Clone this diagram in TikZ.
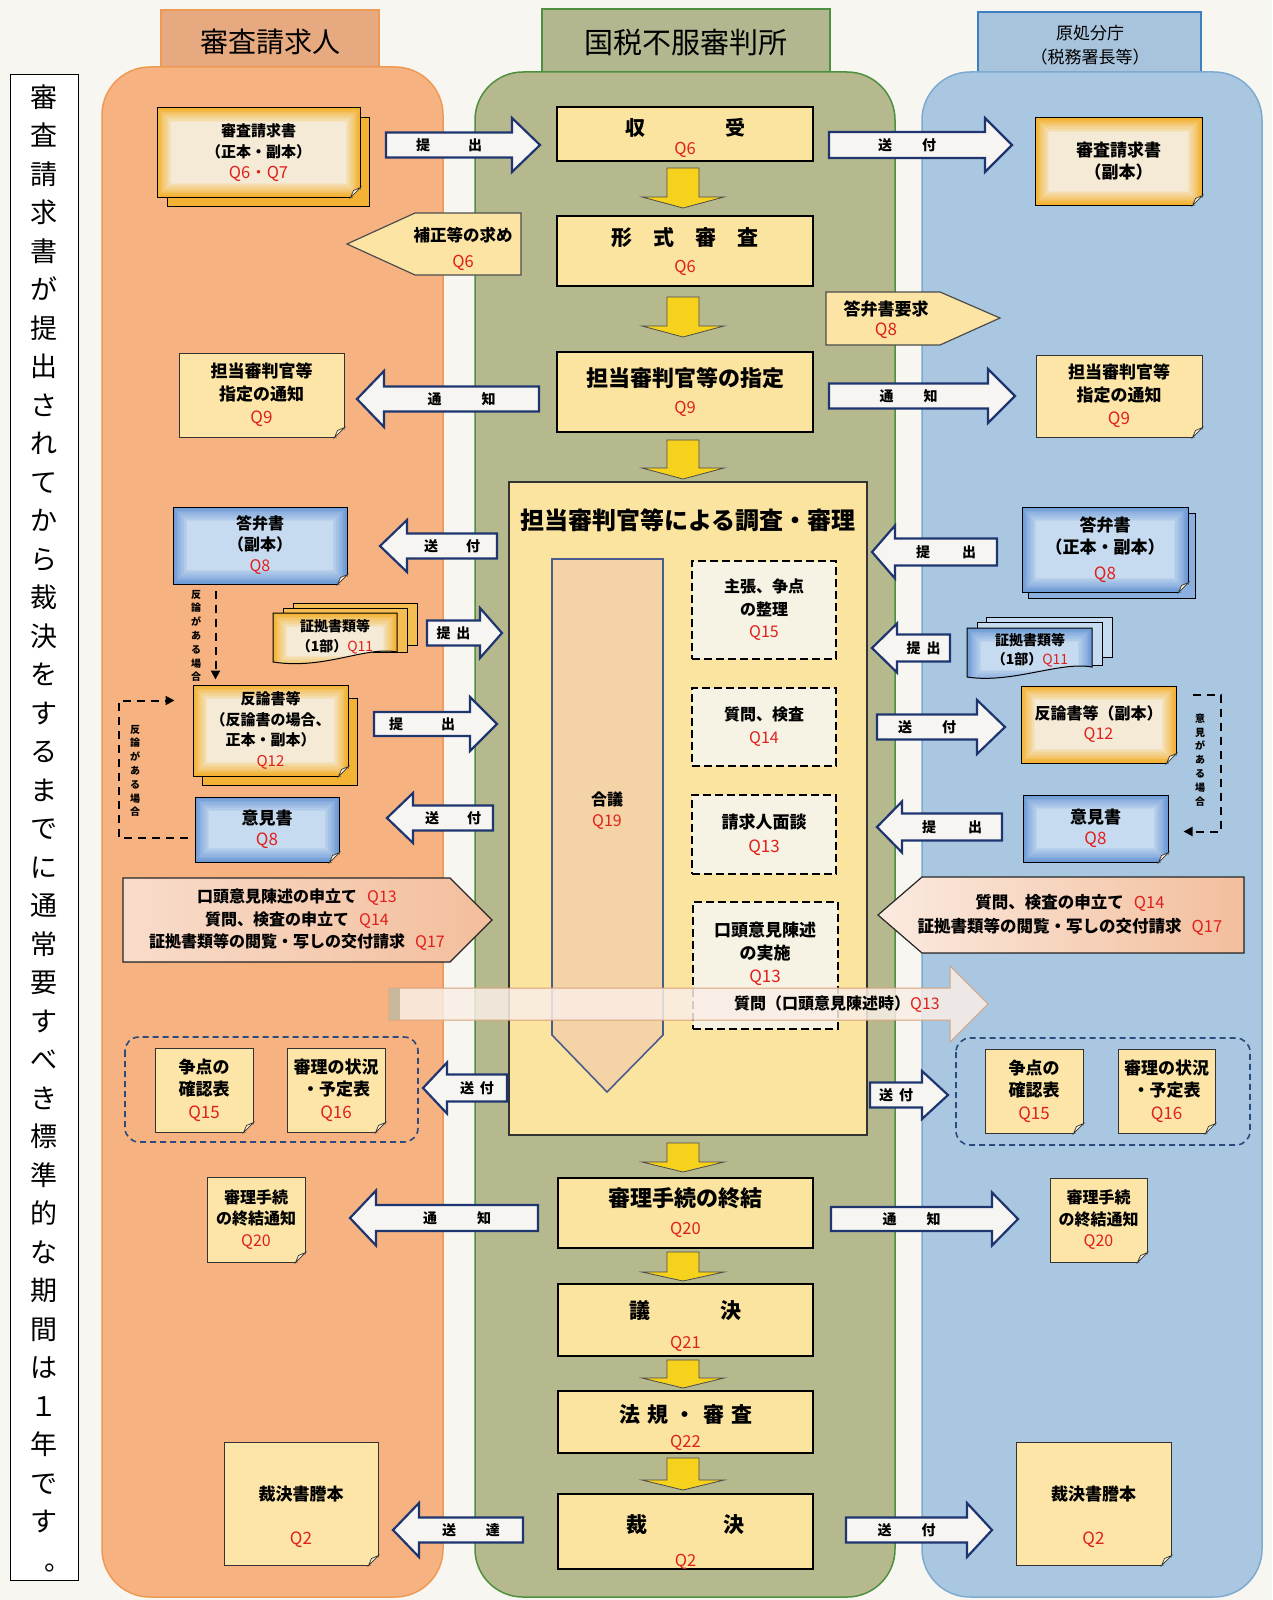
\documentclass[tikz,border=0pt]{standalone}
\usepackage{fontspec}
\setmainfont{Noto Sans CJK JP}
\usetikzlibrary{arrows.meta}
\definecolor{bg}{HTML}{F7F6F1}
\definecolor{laneO}{HTML}{F6B381}
\definecolor{laneOd}{HTML}{EE9A55}
\definecolor{tabO}{HTML}{E7A97F}
\definecolor{laneG}{HTML}{B5B98D}
\definecolor{laneGd}{HTML}{4E9040}
\definecolor{tabG}{HTML}{B3B790}
\definecolor{laneB}{HTML}{A9C7E0}
\definecolor{laneBd}{HTML}{7FAAD0}
\definecolor{tabB}{HTML}{A8C3DC}
\definecolor{tabBd}{HTML}{3D7FBF}
\definecolor{boxY}{HTML}{FBE3A0}
\definecolor{paperY}{HTML}{FCE5A6}
\definecolor{gO}{HTML}{F3B233}
\definecolor{gOin}{HTML}{F5EAD6}
\definecolor{gB}{HTML}{6E9BD6}
\definecolor{gBin}{HTML}{C6DAF0}
\definecolor{arrF}{HTML}{F6F5F2}
\definecolor{navy}{HTML}{1E3570}
\definecolor{qred}{HTML}{E0201C}
\definecolor{yel}{HTML}{F7D21C}
\definecolor{dboxF}{HTML}{F6F2E4}
\definecolor{gouF}{HTML}{F4D3A6}
\definecolor{pinkL}{HTML}{F8DCCB}
\definecolor{pinkR}{HTML}{F3BE9C}
\definecolor{grpB}{HTML}{2B4A7E}
\definecolor{pentY}{HTML}{FBE4A4}
\definecolor{qarrF}{HTML}{F9EEE6}
\definecolor{qarrD}{HTML}{D8A27A}
\definecolor{qbar}{HTML}{C9B79B}

\newcommand{\Q}[1]{{\mdseries\color{qred}#1}}
\newcommand{\QQ}[1]{{\fontsize{16.5}{16.5}\selectfont\mdseries\color{qred}#1}}
% right-pointing block arrow: name, x tail, x tip, y centre, shaft half, head half, head length, text
\newcommand{\rarr}[8]{%
  \draw[barrow] (#2,#4-#5) -- (#3-#7,#4-#5) -- (#3-#7,#4-#6) -- (#3,#4) -- (#3-#7,#4+#6) -- (#3-#7,#4+#5) -- (#2,#4+#5) -- cycle;
  \node[btext] (#1) at ({(#2+#3-#7)/2},#4) {#8};}
% left-pointing block arrow: name, x tip, x tail, y centre, shaft half, head half, head length, text
\newcommand{\larr}[8]{%
  \draw[barrow] (#3,#4-#5) -- (#2+#7,#4-#5) -- (#2+#7,#4-#6) -- (#2,#4) -- (#2+#7,#4+#6) -- (#2+#7,#4+#5) -- (#3,#4+#5) -- cycle;
  \node[btext] (#1) at ({(#2+#7+#3)/2},#4) {#8};}
% yellow down arrow: name, x centre, y top, y head base, y tip
\newcommand{\darr}[5]{%
  \draw[yarrow] (#2-16,#3) -- (#2+16,#3) -- (#2+16,#4) -- (#2+41,#4) -- (#2,#5) -- (#2-41,#4) -- (#2-16,#4) -- cycle;
  \coordinate (#1) at (#2,#3);}
% box node from corners: name, x1, y1, x2, y2, style, text
\newcommand{\pbox}[7]{\node[#6, minimum width={#4pt-#2pt}, minimum height={#5pt-#3pt}] (#1) at ({(#2+#4)/2},{(#3+#5)/2}) {#7};}
% folded corner
\newcommand{\fold}[2]{%
  \fill[#2] ([xshift=-10pt]#1.south east) -- ([xshift=1pt,yshift=-1pt]#1.south east) -- ([yshift=10pt]#1.south east) -- cycle;
  \filldraw[fill=white!55!paperY, draw=black!80, line width=0.7pt] ([xshift=-10pt]#1.south east) -- ([xshift=-7pt,yshift=7pt]#1.south east) -- ([yshift=10pt]#1.south east) -- cycle;}

\begin{document}
\begin{tikzpicture}[x={(1pt,0)}, y={(0,-1pt)},
  every node/.style={inner sep=0pt},
  barrow/.style={fill=arrF, draw=navy, line width=2.2pt, line join=miter},
  btext/.style={font=\bfseries\fontsize{14}{14}\selectfont},
  yarrow/.style={fill=yel, draw=black!70, line width=0.8pt},
  cbox/.style={fill=boxY, draw=black, line width=1.6pt, align=center},
  paper/.style={fill=paperY, draw=black!80, line width=1pt, align=center},
  glowO/.style={fill=gO, path picture={
    \foreach \k in {1,...,8}{\pgfmathtruncatemacro{\pc}{\k*100/8}
      \fill[gOin!\pc!gO] ([shift={(\k*1.8,-\k*1.8)}]path picture bounding box.south west) rectangle ([shift={(-\k*1.8,\k*1.8)}]path picture bounding box.north east);}}},
  glowB/.style={fill=gB, path picture={
    \foreach \k in {1,...,8}{\pgfmathtruncatemacro{\pc}{\k*100/8}
      \fill[gBin!\pc!gB] ([shift={(\k*1.8,-\k*1.8)}]path picture bounding box.south west) rectangle ([shift={(-\k*1.8,\k*1.8)}]path picture bounding box.north east);}}},
  gpaperO/.style={glowO, draw=black, line width=1pt, align=center},
  gpaperB/.style={glowB, draw=black, line width=1pt, align=center},
  dbox/.style={fill=dboxF, draw=black, line width=2pt, dash pattern=on 8pt off 4pt, align=center},
  grp/.style={draw=grpB, line width=1.6pt, dash pattern=on 6pt off 4pt, rounded corners=14pt},
  dashc/.style={draw=black, line width=2pt, dash pattern=on 8pt off 6pt, -{Triangle[length=9pt,width=9pt]}},
  vsmall/.style={font=\bfseries\fontsize{10}{13.8}\selectfont, align=center},
  back/.style={draw=black, line width=1pt}]

\fill[bg] (0,0) rectangle (1272,1600);
\useasboundingbox (0,0) rectangle (1272,1600);

% ---------- lanes ----------
\filldraw[fill=tabO, draw=laneOd, line width=1.5pt] (161,10) rectangle (379,72);
\filldraw[fill=tabG, draw=laneGd, line width=1.5pt] (542,9) rectangle (830,76);
\filldraw[fill=tabB, draw=tabBd, line width=1.5pt] (978,12) rectangle (1201,76);
\filldraw[fill=laneO, draw=laneOd, line width=1.5pt, rounded corners=48pt] (102,67) rectangle (443,1597);
\filldraw[fill=laneG, draw=laneGd, line width=1.5pt, rounded corners=48pt] (475,72) rectangle (895,1597);
\filldraw[fill=laneB, draw=laneBd, line width=1.5pt, rounded corners=48pt] (922,72) rectangle (1262,1597);
\node[font=\fontsize{28}{28}\selectfont] (hO) at (270,42) {審査請求人};
\node[font=\fontsize{29}{29}\selectfont] (hG) at (686,42) {国税不服審判所};
\node[font=\fontsize{17}{24}\selectfont, align=center] (hB) at (1090,45) {原処分庁\\（税務署長等）};

% ---------- vertical note ----------
\node[draw=black, line width=1pt, fill=white, minimum width=68pt, minimum height=1505pt] (vbox) at (44,827.5) {};
\node[font=\fontsize{27}{38.5}\selectfont, align=center] (vtext) at (44,828) {審\\査\\請\\求\\書\\が\\提\\出\\さ\\れ\\て\\か\\ら\\裁\\決\\を\\す\\る\\ま\\で\\に\\通\\常\\要\\す\\べ\\き\\標\\準\\的\\な\\期\\間\\は\\１\\年\\で\\す\\\kern28pt。};

% ---------- centre column ----------
\pbox{cRecv}{557}{107}{813}{161}{cbox, font=\bfseries\fontsize{20}{19}\selectfont}{\rule{0pt}{25pt}収\hspace{80pt}受\\\QQ{Q6}}
\pbox{cForm}{557}{216}{813}{286}{cbox, font=\bfseries\fontsize{21}{27}\selectfont}{形　式　審　査\\\QQ{Q6}}
\pbox{cAssign}{557}{352}{813}{432}{cbox, font=\bfseries\fontsize{22}{27}\selectfont}{担当審判官等の指定\\\QQ{Q9}}
\darr{d1}{683}{168}{197}{208}
\darr{d2}{683}{297}{326}{337}
\darr{d3}{683}{440}{468}{479}

\pbox{cInv}{509}{482}{867}{1135}{fill=boxY, draw=black!80, line width=1.2pt}{}
\node[font=\bfseries\fontsize{24}{24}\selectfont] (cInvT) at (688,520) {担当審判官等による調査・審理};
\filldraw[fill=gouF, draw=navy!80, line width=1.6pt] (552,559) -- (663,559) -- (663,1035) -- (607,1092) -- (552,1035) -- cycle;
\node[font=\bfseries\fontsize{16}{21}\selectfont, align=center] (gougi) at (607,811) {合議\\\Q{Q19}};
\pbox{dbA}{692}{561}{836}{659}{dbox, font=\bfseries\fontsize{16}{22.5}\selectfont}{主張、争点\\の整理\\\Q{Q15}}
\pbox{dbB}{692}{688}{836}{766}{dbox, font=\bfseries\fontsize{16}{23}\selectfont}{質問、検査\\\Q{Q14}}
\pbox{dbC}{692}{795}{836}{874}{dbox, font=\bfseries\fontsize{17}{24}\selectfont}{請求人面談\\\Q{Q13}}
\pbox{dbD}{693}{902}{838}{1029}{dbox}{}
\node[font=\bfseries\fontsize{17}{23}\selectfont, align=center] (dbDt) at (765,954) {口頭意見陳述\\の実施\\\Q{Q13}};

\darr{d4}{683}{1143}{1162}{1172}
\pbox{cEnd}{558}{1178}{813}{1248}{cbox, font=\bfseries\fontsize{22}{28}\selectfont}{審理手続の終結\\\QQ{Q20}}
\darr{d5}{683}{1252}{1272}{1281}
\pbox{cVote}{558}{1284}{813}{1356}{cbox, font=\bfseries\fontsize{21}{30}\selectfont}{\rule{0pt}{30pt}議\hspace{70pt}決\\\QQ{Q21}}
\darr{d6}{683}{1360}{1378}{1388}
\pbox{cLaw}{558}{1391}{813}{1453}{cbox, font=\bfseries\fontsize{21}{25}\selectfont}{\rule{0pt}{28pt}法\hspace{7pt}規\hspace{7pt}・\hspace{7pt}審\hspace{7pt}査\\\QQ{Q22}}
\darr{d7}{683}{1458}{1480}{1490}
\pbox{cDec}{558}{1495}{813}{1568}{cbox, font=\bfseries\fontsize{21}{34}\selectfont}{\rule{0pt}{38pt}裁\hspace{76pt}決\\\QQ{Q2}}

% ---------- side pentagons ----------
\filldraw[fill=pentY, draw=black!70, line width=1.2pt] (347,244) -- (415,213) -- (521,213) -- (521,275) -- (415,275) -- cycle;
\node[font=\bfseries\fontsize{16.5}{26}\selectfont, align=center] (hosei) at (463,249) {補正等の求め\\\Q{Q6}};
\filldraw[fill=pentY, draw=black!70, line width=1.2pt] (826,292) -- (940,292) -- (1000,318) -- (940,345) -- (826,345) -- cycle;
\node[font=\bfseries\fontsize{17}{20}\selectfont, align=center] (youkyu) at (886,320) {答弁書要求\\\Q{Q8}};

% ---------- left lane documents ----------
\filldraw[back, fill=gO] (167,118) rectangle (369,206);
\pbox{pReqL}{157}{108}{360}{197}{gpaperO, font=\bfseries\fontsize{15}{21}\selectfont}{審査請求書\\（正本・副本）\\\QQ{Q6・Q7}}
\fold{pReqL}{gO}
\pbox{pNotL}{179}{353}{344}{437}{paper, font=\bfseries\fontsize{17}{23}\selectfont}{担当審判官等\\指定の通知\\\Q{Q9}}
\fold{pNotL}{laneO}
\pbox{pAnsL}{173}{507}{347}{584}{gpaperB, font=\bfseries\fontsize{16}{21}\selectfont}{答弁書\\（副本）\\\Q{Q8}}
\fold{pAnsL}{laneO}
\filldraw[back, fill=gO!85!white] (293,603) rectangle (417,645);
\filldraw[back, fill=gO!85!white] (283,608) rectangle (407,652);
\filldraw[glowO, draw=black, line width=1pt] (273,613) -- (397,613) -- (397,652) .. controls (365,646) and (325,670) .. (273,662) -- cycle;
\node[font=\bfseries\fontsize{14}{20}\selectfont, align=center] (evL) at (335,637) {証拠書類等\\（1部）\Q{Q11}};
\filldraw[back, fill=gO] (202,698) rectangle (357,785);
\pbox{pHanL}{193}{685}{348}{776}{gpaperO, font=\bfseries\fontsize{15}{20.5}\selectfont}{反論書等\\（反論書の場合、\\正本・副本）\\\Q{Q12}}
\fold{pHanL}{gO}
\pbox{pIkenL}{195}{797}{339}{862}{gpaperB, font=\bfseries\fontsize{17}{21}\selectfont}{意見書\\\Q{Q8}}
\fold{pIkenL}{laneO}
\draw[grp] (125,1037) rectangle (418,1142);
\pbox{pIssueL}{155}{1048}{253}{1132}{paper, font=\bfseries\fontsize{17}{22.5}\selectfont}{争点の\\確認表\\\Q{Q15}}
\fold{pIssueL}{laneO}
\pbox{pStatusL}{287}{1048}{385}{1132}{paper, font=\bfseries\fontsize{17}{22.5}\selectfont}{審理の状況\\・予定表\\\Q{Q16}}
\fold{pStatusL}{laneO}
\pbox{pEndL}{207}{1177}{305}{1262}{paper, font=\bfseries\fontsize{16}{21.5}\selectfont}{審理手続\\の終結通知\\\Q{Q20}}
\fold{pEndL}{laneO}
\pbox{pCopyL}{224}{1442}{378}{1565}{paper, font=\bfseries\fontsize{17}{22}\selectfont}{\rule{0pt}{41pt}裁決書謄本\\[22pt]\Q{Q2}}
\fold{pCopyL}{laneO}

% ---------- right lane documents ----------
\pbox{pReqR}{1035}{118}{1202}{205}{gpaperO, font=\bfseries\fontsize{17}{22}\selectfont}{審査請求書\\（副本）}
\fold{pReqR}{laneB}
\pbox{pNotR}{1036}{355}{1202}{437}{paper, font=\bfseries\fontsize{17}{23}\selectfont}{担当審判官等\\指定の通知\\\Q{Q9}}
\fold{pNotR}{laneB}
\filldraw[back, fill=gB!80!white] (1028,513) rectangle (1195,598);
\pbox{pAnsR}{1022}{507}{1188}{592}{gpaperB, font=\bfseries\fontsize{17}{22}\selectfont}{答弁書\\（正本・副本）\\[4pt]\Q{Q8}}
\fold{pAnsR}{gB!80!white}
\filldraw[back, fill=gBin] (986,617) rectangle (1112,657);
\filldraw[back, fill=gBin] (977,622) rectangle (1102,665);
\filldraw[glowB, draw=black, line width=1pt] (967,628) -- (1092,628) -- (1092,667) .. controls (1060,661) and (1012,684) .. (967,677) -- cycle;
\node[font=\bfseries\fontsize{14}{19}\selectfont, align=center] (evR) at (1030,650) {証拠書類等\\（1部）\Q{Q11}};
\pbox{pHanR}{1021}{686}{1176}{763}{gpaperO, font=\bfseries\fontsize{16}{20}\selectfont}{反論書等（副本）\\\Q{Q12}}
\fold{pHanR}{laneB}
\pbox{pIkenR}{1023}{795}{1168}{862}{gpaperB, font=\bfseries\fontsize{17}{21}\selectfont}{意見書\\\Q{Q8}}
\fold{pIkenR}{laneB}
\draw[grp] (956,1038) rectangle (1250,1145);
\pbox{pIssueR}{985}{1049}{1083}{1133}{paper, font=\bfseries\fontsize{17}{22.5}\selectfont}{争点の\\確認表\\\Q{Q15}}
\fold{pIssueR}{laneB}
\pbox{pStatusR}{1118}{1049}{1215}{1133}{paper, font=\bfseries\fontsize{17}{22.5}\selectfont}{審理の状況\\・予定表\\\Q{Q16}}
\fold{pStatusR}{laneB}
\pbox{pEndR}{1050}{1178}{1147}{1262}{paper, font=\bfseries\fontsize{16}{21.5}\selectfont}{審理手続\\の終結通知\\\Q{Q20}}
\fold{pEndR}{laneB}
\pbox{pCopyR}{1016}{1442}{1171}{1565}{paper, font=\bfseries\fontsize{17}{22}\selectfont}{\rule{0pt}{41pt}裁決書謄本\\[22pt]\Q{Q2}}
\fold{pCopyR}{laneB}

% ---------- request pentagons ----------
\filldraw[left color=pinkL, right color=pinkR, draw=black!85, line width=1.2pt] (123,878) -- (450,878) -- (492,920) -- (450,962) -- (123,962) -- cycle;
\node[font=\bfseries\fontsize{16}{22.5}\selectfont, align=center] (pentL) at (297,920) {口頭意見陳述の申立て\hspace{10pt}\Q{Q13}\\質問、検査の申立て\hspace{10pt}\Q{Q14}\\証拠書類等の閲覧・写しの交付請求\hspace{10pt}\Q{Q17}};
\filldraw[left color=pinkL!60!white, right color=pinkR, draw=black!85, line width=1.2pt] (878,915) -- (922,877) -- (1244,877) -- (1244,953) -- (922,953) -- cycle;
\node[font=\bfseries\fontsize{16.5}{24}\selectfont, align=center] (pentR) at (1070,915) {質問、検査の申立て\hspace{10pt}\Q{Q14}\\証拠書類等の閲覧・写しの交付請求\hspace{10pt}\Q{Q17}};

% ---------- question arrow ----------
\filldraw[fill=qarrF, fill opacity=0.85, draw=qarrD, line width=1pt] (389,988) -- (950,988) -- (950,966) -- (988,1004) -- (950,1042) -- (950,1020) -- (389,1020) -- cycle;
\fill[qbar] (389,988) rectangle (400,1020);
\node[font=\bfseries\fontsize{16}{16}\selectfont] (qArr) at (837,1004) {質問（口頭意見陳述時）\Q{Q13}};

% ---------- block arrows ----------
\rarr{aSub1}{386}{540}{145}{12.5}{27}{28}{提\hspace{38pt}出}
\rarr{aSend1}{829}{1012}{145}{13}{27}{27}{送\hspace{30pt}付}
\larr{aNot1L}{357}{539}{399}{12.5}{28}{27}{通\hspace{40pt}知}
\rarr{aNot1R}{829}{1015}{396}{12.5}{27}{27}{通\hspace{30pt}知}
\larr{aSendAnsL}{380}{497}{546}{12.5}{26}{27}{送\hspace{28pt}付}
\rarr{aSubEvL}{427}{502}{633}{12.5}{25}{22}{提\hspace{6pt}出}
\rarr{aSubHanL}{374}{497}{724}{12}{27}{27}{提\hspace{38pt}出}
\larr{aSendIkenL}{387}{493}{818}{12.5}{25}{26}{送\hspace{28pt}付}
\larr{aSubAnsR}{872}{997}{552}{13.5}{26.5}{23}{提\hspace{32pt}出}
\larr{aSubEvR}{872}{950}{648}{13.5}{24.5}{25}{提\hspace{6pt}出}
\rarr{aSendHanR}{877}{1005}{727}{12.5}{27}{28}{送\hspace{30pt}付}
\larr{aSubIkenR}{877}{1002}{827}{13.5}{25.5}{25}{提\hspace{32pt}出}
\larr{aSendGrpL}{423}{507}{1088}{13.5}{25.5}{24}{送\hspace{6pt}付}
\rarr{aSendGrpR}{870}{948}{1095}{12.5}{24}{26}{送\hspace{6pt}付}
\larr{aNot2L}{350}{538}{1218}{13}{27.5}{26}{通\hspace{40pt}知}
\rarr{aNot2R}{831}{1018}{1219}{12}{26.5}{26}{通\hspace{30pt}知}
\larr{aServeL}{393}{523}{1530}{12.5}{27}{26}{送\hspace{30pt}達}
\rarr{aSendFinR}{846}{992}{1530}{12.5}{27}{25}{送\hspace{30pt}付}

% ---------- dashed conditional connectors ----------
\draw[dashc] ([xshift=43pt,yshift=-6pt]pAnsL.south west) -- ([xshift=23pt,yshift=5pt]pHanL.north west);
\node[vsmall] (vtL1) at (196,636) {反\\論\\が\\あ\\る\\場\\合};
\draw[dashc] ([xshift=-7pt,yshift=-8pt]pIkenL.west) -- ++(-69,0) |- ([xshift=-18pt,yshift=-16pt]pHanL.north west);
\node[vsmall] (vtL2) at (135,771) {反\\論\\が\\あ\\る\\場\\合};
\draw[dashc] ([xshift=16pt,yshift=-9pt]pHanR.north east) -- ++(28,0) |- ([xshift=15pt,yshift=-3pt]pIkenR.east);
\node[vsmall] (vtR) at (1200,760) {意\\見\\が\\あ\\る\\場\\合};
\end{tikzpicture}
\end{document}
